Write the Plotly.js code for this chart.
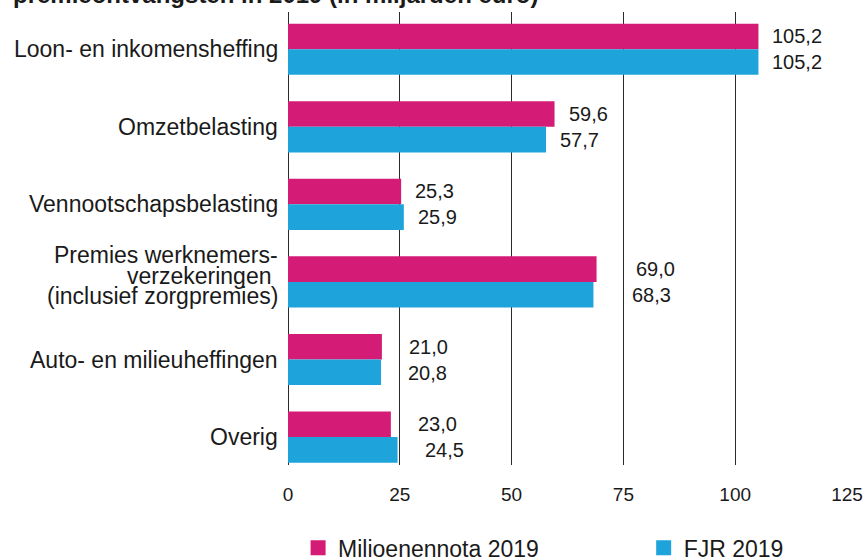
<!DOCTYPE html>
<html>
<head>
<meta charset="utf-8">
<script src="https://cdn.plot.ly/plotly-3.0.1.min.js"></script>
<style>
  html, body { margin: 0; padding: 0; background: #ffffff; }
  #chart { width: 864px; height: 557px; }
</style>
</head>
<body>
<div id="chart"></div>
<script>
// ---- Data ----
const categories = [
  "Loon- en inkomensheffing",
  "Omzetbelasting",
  "Vennootschapsbelasting",
  "Premies werknemers-\nverzekeringen\u00a0\n(inclusief zorgpremies)",
  "Auto- en milieuheffingen",
  "Overig"
];
const miljoenennota2019 = [105.2, 59.6, 25.3, 69.0, 21.0, 23.0];
const fjr2019 = [105.2, 57.7, 25.9, 68.3, 20.8, 24.5];
const seriesNames = ["Miljoenennota 2019", "FJR 2019"];
const xTickValues = [0, 25, 50, 75, 100, 125];
const titleText = "premieontvangsten in 2019 (in miljarden euro)";

// ---- Styling ----
const FONT = "Liberation Sans, Arial, Helvetica, sans-serif";
const PINK = "#d41b76";
const BLUE = "#1ea4db";
const TEXT = "#1a1a1a";
const labelGapPx = [12, 12, 12, 37, 25, 25]; // horizontal gap of value labels per category

const fmt = v => v.toFixed(1).replace(".", ",");

const traces = [
  { type: "bar", orientation: "h", name: seriesNames[0], x: miljoenennota2019, y: categories,
    marker: { color: PINK }, hoverinfo: "skip", legend: "legend" },
  { type: "bar", orientation: "h", name: seriesNames[1], x: fjr2019, y: categories,
    marker: { color: BLUE }, hoverinfo: "skip", legend: "legend2" }
];

const annotations = [];
// value labels
[miljoenennota2019, fjr2019].forEach((series, s) => {
  series.forEach((v, i) => {
    annotations.push({
      x: v, y: categories[i], xref: "x", yref: "y",
      text: fmt(v), showarrow: false, xanchor: "left", yanchor: "middle",
      xshift: labelGapPx[i], yshift: s === 0 ? 13 : -13,
      font: { family: FONT, size: 20, color: TEXT }
    });
  });
});
// category labels
categories.forEach((c, i) => {
  const lines = c.split("\n");
  const n = lines.length;
  lines.forEach((line, j) => {
    annotations.push({
      x: 0, xref: "paper", y: categories[i], yref: "y",
      text: line, showarrow: false, xanchor: "right", yanchor: "middle",
      xshift: -8, yshift: ((n - 1) / 2 - j) * 20.5 + (n > 1 ? 6 : 0),
      font: { family: FONT, size: 23, color: TEXT }
    });
  });
});
// title (partly cut off at the top, as in the reference)
annotations.push({
  x: 0, xref: "paper", y: 1, yref: "paper", xanchor: "left", yanchor: "bottom",
  xshift: -277, yshift: 2, showarrow: false,
  text: "<b>" + titleText + "</b>",
  font: { family: FONT, size: 24, color: TEXT }
});

const legendBase = {
  orientation: "h", xref: "container", yref: "container",
  xanchor: "left", y: 0.055, yanchor: "top",
  font: { family: FONT, size: 23, color: TEXT },
  bgcolor: "rgba(0,0,0,0)"
};

const layout = {
  width: 864, height: 557,
  margin: { l: 288, r: 17, t: 12, b: 92, pad: 0 },
  paper_bgcolor: "#ffffff", plot_bgcolor: "#ffffff",
  barmode: "group", bargap: 0.34, bargroupgap: 0,
  showlegend: true,
  legend: Object.assign({}, legendBase, { x: 0.345 }),
  legend2: Object.assign({}, legendBase, { x: 0.745 }),
  xaxis: {
    range: [0, 125], tickvals: xTickValues, ticktext: xTickValues.map(String),
    showgrid: true, gridcolor: "#2b2b2b", gridwidth: 1,
    zeroline: true, zerolinecolor: "#2b2b2b", zerolinewidth: 1,
    showline: false, ticks: "", ticklabelstandoff: 16,
    tickfont: { family: FONT, size: 19, color: TEXT }, fixedrange: true
  },
  yaxis: {
    type: "category", range: [5.36, -0.48], showgrid: false, zeroline: false,
    showticklabels: false, ticks: "", showline: false, fixedrange: true
  },
  annotations: annotations
};

Plotly.newPlot("chart", traces, layout, { displayModeBar: false, staticPlot: true }).then(gd => {
  // enlarge the legend swatches to match the reference's square keys
  gd.querySelectorAll(".legendpoints path").forEach(p => p.setAttribute("d", "M7.5,7.5H-7.5V-7.5H7.5Z"));
});
</script>
</body>
</html>
